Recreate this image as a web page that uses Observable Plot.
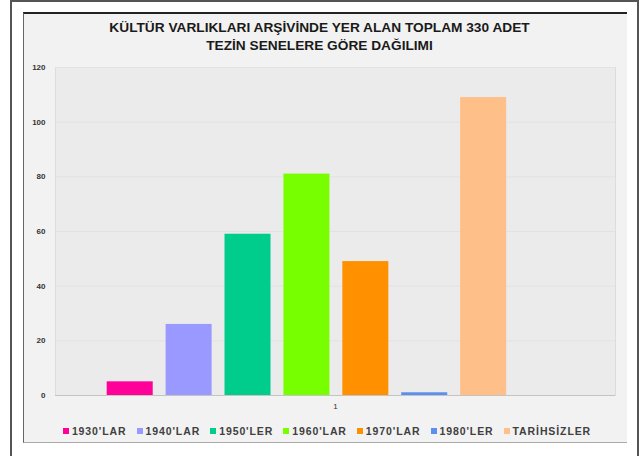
<!DOCTYPE html>
<html>
<head>
<meta charset="utf-8">
<script src="https://cdn.jsdelivr.net/npm/d3@7"></script>
<script src="https://cdn.jsdelivr.net/npm/@observablehq/plot@0.6"></script>
<style>
  html, body { margin: 0; padding: 0; background: #fff; }
  body { width: 639px; height: 456px; position: relative; overflow: hidden; font-family: "Liberation Sans", Arial, sans-serif; }
  #outer { position: absolute; left: 10px; top: 0px; width: 629px; height: 470px; border: 2px solid #555; box-sizing: border-box; }
  #inner { position: absolute; left: 23px; top: 12px; width: 604px; height: 431px; background: #f2f2f2; border-top: 2px solid #222; border-left: 1px solid #666; border-bottom: 1px solid #aaa; box-sizing: border-box; }
  #title { position: absolute; left: 0; top: 19px; width: 639px; text-align: center; font-weight: bold; font-size: 13.7px; line-height: 18px; color: #1a1a1a; }
  #chart { position: absolute; left: 0; top: 0; }
  #legend { position: absolute; left: 30px; top: 421px; width: 604px; }
  .lg-swatches { display: flex !important; justify-content: center; align-items: center; margin: 0 !important; min-height: 20px !important; }
  .lg-swatch { margin-right: 10px !important; font-weight: bold; font-size: 10.5px; letter-spacing: 0.9px; color: #404040; font-family: "Liberation Sans", Arial, sans-serif; }
  .lg-swatch > svg { margin-right: 3px !important; }
</style>
</head>
<body>
<div id="outer"></div>
<div id="inner"></div>
<div id="title">KÜLTÜR VARLIKLARI ARŞİVİNDE YER ALAN TOPLAM 330 ADET<br>TEZİN SENELERE GÖRE DAĞILIMI</div>
<div id="chart"></div>
<div id="legend"></div>
<script>
const decades = ["1930'LAR", "1940'LAR", "1950'LER", "1960'LAR", "1970'LAR", "1980'LER", "TARİHSİZLER"];
const counts = [5, 26, 59, 81, 49, 1, 109];
const colors = ["#ff0099", "#9999ff", "#00cc8c", "#77ff00", "#ff9100", "#5b8ff0", "#ffbf88"];
const groupLabel = "1";
const yTicks = [0, 20, 40, 60, 80, 100, 120];

const data = decades.map((d, i) => ({decade: d, value: counts[i], group: groupLabel}));

const chart = Plot.plot({
  width: 639,
  height: 420,
  marginLeft: 55,
  marginRight: 24,
  marginTop: 67,
  marginBottom: 25,
  style: {background: "transparent", fontFamily: "'Liberation Sans', Arial, sans-serif", overflow: "visible"},
  fx: {padding: 0, label: null, axis: null},
  x: {type: "band", domain: decades, paddingInner: 0.219, paddingOuter: 1.363, align: 0.322, round: false, axis: null},
  y: {domain: [0, 120], axis: null},
  color: {domain: decades, range: colors},
  marks: [
    Plot.frame({fill: "#ebebeb", stroke: "#dcdcdc"}),
    Plot.gridY(yTicks.filter(d => d > 0), {stroke: "#e2e2e2", strokeOpacity: 1}),
    Plot.barY(data, {fx: "group", x: "decade", y: "value", fill: "decade"}),
    Plot.ruleY([0], {stroke: "#c4c4c4"}),
    Plot.axisY({ticks: yTicks, tickSize: 0, tickPadding: 10, label: null, fontSize: 8, fontWeight: "bold", fill: "#333"}),
    Plot.axisFx({anchor: "bottom", tickSize: 0, tickPadding: 8, label: null, fontSize: 8, fill: "#333"})
  ]
});
document.getElementById("chart").append(chart);

const legend = Plot.legend({
  color: {domain: decades, range: colors},
  className: "lg",
  swatchSize: 6
});
document.getElementById("legend").append(legend);
</script>
</body>
</html>
